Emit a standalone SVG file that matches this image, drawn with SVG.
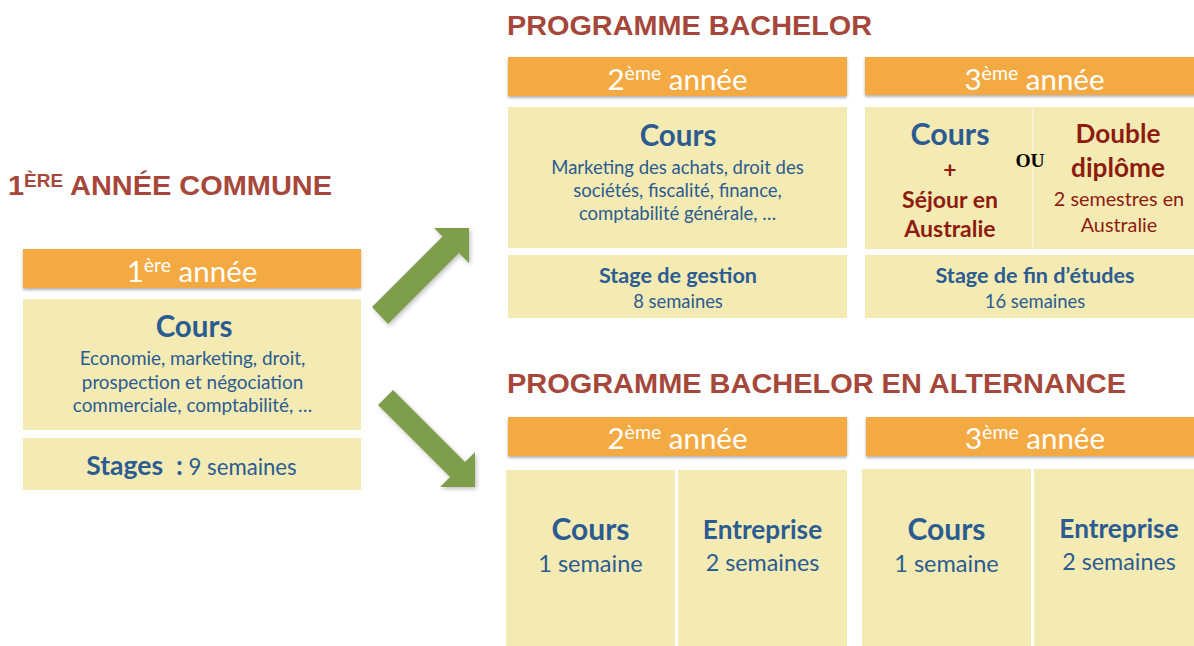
<svg xmlns="http://www.w3.org/2000/svg" width="1194" height="646" viewBox="0 0 1194 646">
<defs>
<filter id="sh" x="-10%" y="-20%" width="120%" height="160%">
<feDropShadow dx="0" dy="2" stdDeviation="1.5" flood-color="#000" flood-opacity="0.3"/>
</filter>
<filter id="ash" x="-20%" y="-20%" width="140%" height="140%">
<feDropShadow dx="1.5" dy="2" stdDeviation="2" flood-color="#000" flood-opacity="0.25"/>
</filter>
</defs>
<style>
.title{font-family:"Liberation Sans",Arial,sans-serif;font-weight:bold;font-size:27.5px;fill:#A6473B}
.hdr{fill:#F4AA42}
.box{fill:#F3EBB3}
.ht{font-family:Lato,"Noto Sans",sans-serif;font-size:29.5px;fill:#fff;text-anchor:middle}
.c{font-family:Lato,"Noto Sans",sans-serif;text-anchor:middle;fill:#2C5B91}
.b{font-weight:bold}
.r{fill:#8E1B0E}
.arrow{fill:#7F9E4B}
</style>
<rect width="1194" height="646" fill="#fff"/>

<!-- Titles -->
<text class="title" x="8" y="195" textLength="324" lengthAdjust="spacingAndGlyphs"><tspan>1</tspan><tspan font-size="18" dy="-8">ÈRE</tspan><tspan dy="8"> ANNÉE COMMUNE</tspan></text>
<text class="title" x="507" y="35" textLength="365" lengthAdjust="spacingAndGlyphs">PROGRAMME BACHELOR</text>
<text class="title" x="507" y="393" textLength="619" lengthAdjust="spacingAndGlyphs">PROGRAMME BACHELOR EN ALTERNANCE</text>

<!-- 1ère année -->
<g id="annee1">
<rect class="hdr" x="23" y="249" width="338" height="39" filter="url(#sh)"/>
<text class="ht" x="192" y="282"><tspan>1</tspan><tspan font-size="19.5" dy="-10">ère</tspan><tspan dy="10"> année</tspan></text>
<rect class="box" x="23" y="299" width="338" height="131"/>
<text class="c b" x="194" y="337" font-size="29.5">Cours</text>
<text class="c" x="192.5" y="365" font-size="18.9">Economie, marketing, droit,</text>
<text class="c" x="192.5" y="389" font-size="18.9">prospection et négociation</text>
<text class="c" x="192.5" y="412" font-size="18.9">commerciale, comptabilité, …</text>
<rect class="box" x="23" y="438" width="338" height="52"/>
<text class="c" x="191.5" y="475"><tspan class="b" font-size="26.5">Stages&#160;&#160;:</tspan><tspan font-size="22.2"> 9 semaines</tspan></text>
</g>

<!-- Bachelor 2ème année -->
<g id="bachelor2">
<rect class="hdr" x="508" y="57" width="339" height="39" filter="url(#sh)"/>
<text class="ht" x="677.5" y="90"><tspan>2</tspan><tspan font-size="19.5" dy="-10">ème</tspan><tspan dy="10"> année</tspan></text>
<rect class="box" x="508" y="107" width="339" height="141"/>
<text class="c b" x="678" y="146" font-size="29.5">Cours</text>
<text class="c" x="677.5" y="174" font-size="18.5">Marketing des achats, droit des</text>
<text class="c" x="677.5" y="197" font-size="18.5">sociétés, fiscalité, finance,</text>
<text class="c" x="677.5" y="220" font-size="18.5">comptabilité générale, …</text>
<rect class="box" x="508" y="255" width="339" height="63"/>
<text class="c b" x="678" y="283" font-size="21.6">Stage de gestion</text>
<text class="c" x="678" y="308" font-size="18.4">8 semaines</text>
</g>

<!-- Bachelor 3ème année -->
<g id="bachelor3">
<rect class="hdr" x="865" y="57" width="339" height="38" filter="url(#sh)"/>
<text class="ht" x="1034.5" y="90"><tspan>3</tspan><tspan font-size="19.5" dy="-10">ème</tspan><tspan dy="10"> année</tspan></text>
<rect class="box" x="865" y="107" width="339" height="142"/>
<line x1="1033" y1="107" x2="1033" y2="249" stroke="#FAF5D8" stroke-width="1.5"/>
<text class="c b" x="950" y="145" font-size="30.4">Cours</text>
<text class="c b r" x="950" y="178" font-size="23">+</text>
<text class="c b r" x="950" y="208" font-size="23">Séjour en</text>
<text class="c b r" x="950" y="237" font-size="23">Australie</text>
<text x="1030" y="167" font-family="'Liberation Serif','Times New Roman',serif" font-weight="bold" font-size="19.5" text-anchor="middle" fill="#000">OU</text>
<text class="c b r" x="1118" y="143" font-size="26.2">Double</text>
<text class="c b r" x="1118" y="177" font-size="26.2">diplôme</text>
<text class="c r" x="1119" y="206" font-size="19.8">2 semestres en</text>
<text class="c r" x="1119" y="232" font-size="19.8">Australie</text>
<rect class="box" x="865" y="255" width="339" height="63"/>
<text class="c b" x="1035" y="283" font-size="21.6">Stage de fin d’études</text>
<text class="c" x="1035" y="308" font-size="18.4">16 semaines</text>
</g>

<!-- Alternance 2ème année -->
<g id="alternance2">
<rect class="hdr" x="508" y="417" width="339" height="39" filter="url(#sh)"/>
<text class="ht" x="677.5" y="449"><tspan>2</tspan><tspan font-size="19.5" dy="-10">ème</tspan><tspan dy="10"> année</tspan></text>
<rect class="box" x="506" y="470" width="169" height="180"/>
<rect class="box" x="678" y="470" width="169" height="180"/>
<text class="c b" x="590.5" y="540" font-size="30">Cours</text>
<text class="c" x="590.5" y="572" font-size="23.5">1 semaine</text>
<text class="c b" x="762.5" y="539" font-size="26.2">Entreprise</text>
<text class="c" x="762.5" y="571" font-size="23.3">2 semaines</text>
</g>

<!-- Alternance 3ème année -->
<g id="alternance3">
<rect class="hdr" x="866" y="417" width="339" height="39" filter="url(#sh)"/>
<text class="ht" x="1035" y="449"><tspan>3</tspan><tspan font-size="19.5" dy="-10">ème</tspan><tspan dy="10"> année</tspan></text>
<rect class="box" x="862" y="469" width="169" height="180"/>
<rect class="box" x="1034" y="469" width="170" height="180"/>
<text class="c b" x="946.5" y="540" font-size="30">Cours</text>
<text class="c" x="946.5" y="572" font-size="23.5">1 semaine</text>
<text class="c b" x="1119" y="538" font-size="26.2">Entreprise</text>
<text class="c" x="1119" y="570" font-size="23.3">2 semaines</text>
</g>

<!-- Connectors -->
<g id="connectors" filter="url(#ash)">
<polygon class="arrow" points="372,307 442.5,236.5 434,228 469,228 469,263 459,253 388,324"/>
<polygon class="arrow" points="393,390 465,462 475,452 475,487 440,487 450,477 378,405"/>
</g>
</svg>
